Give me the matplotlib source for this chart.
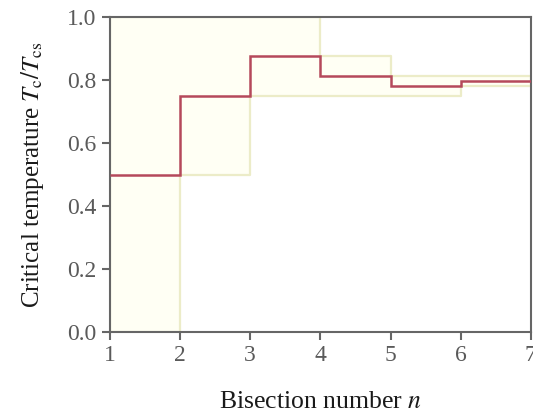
import numpy as np
import matplotlib.pyplot as plt

plt.rcParams['font.family'] = ['Liberation Serif', 'DejaVu Serif']
plt.rcParams['mathtext.fontset'] = 'stix'

# bisection steps
n_edges = [1, 2, 3, 4, 5, 6, 7]
tc_guess = [0.5, 0.75, 0.875, 0.8125, 0.78125, 0.796875]
tc_lower = [0.0, 0.5, 0.75, 0.75, 0.75, 0.78125]
tc_upper = [1.0, 1.0, 1.0, 0.875, 0.8125, 0.8125]

grey = '#666666'

fig = plt.figure(figsize=(5.33, 4.17), dpi=100)
ax = fig.add_axes([0.206, 0.204, 0.79, 0.755])

# interval of possible Tc
ax.fill_between(n_edges, tc_lower + tc_lower[-1:], tc_upper + tc_upper[-1:],
                step='post', facecolor='#fffff4', edgecolor='#ececc8',
                linewidth=1.6, zorder=1)
ax.stairs(tc_guess, n_edges, baseline=None, color='#b5495b', linewidth=1.8, zorder=3)

ax.set_xlim(1, 7)
ax.set_ylim(0, 1)
ax.set_xticks(n_edges)
ax.set_yticks([0.0, 0.2, 0.4, 0.6, 0.8, 1.0])
ax.set_yticklabels(['0.0', '0.2', '0.4', '0.6', '0.8', '1.0'])

for s in ax.spines.values():
    s.set_color(grey)
    s.set_linewidth(1.5)
ax.tick_params(colors=grey, labelsize=17, width=1.5, length=6, direction='out')
ax.tick_params(labelcolor='#5a5a5a')

ax.set_xlabel('Bisection number $n$', fontsize=18.5, color='#1a1a1a', labelpad=18)
ax.set_ylabel(r'Critical temperature $T_\mathrm{c}/T_\mathrm{cs}$', fontsize=18,
              color='#1a1a1a', labelpad=15)

fig.savefig('out.png', dpi=100)
